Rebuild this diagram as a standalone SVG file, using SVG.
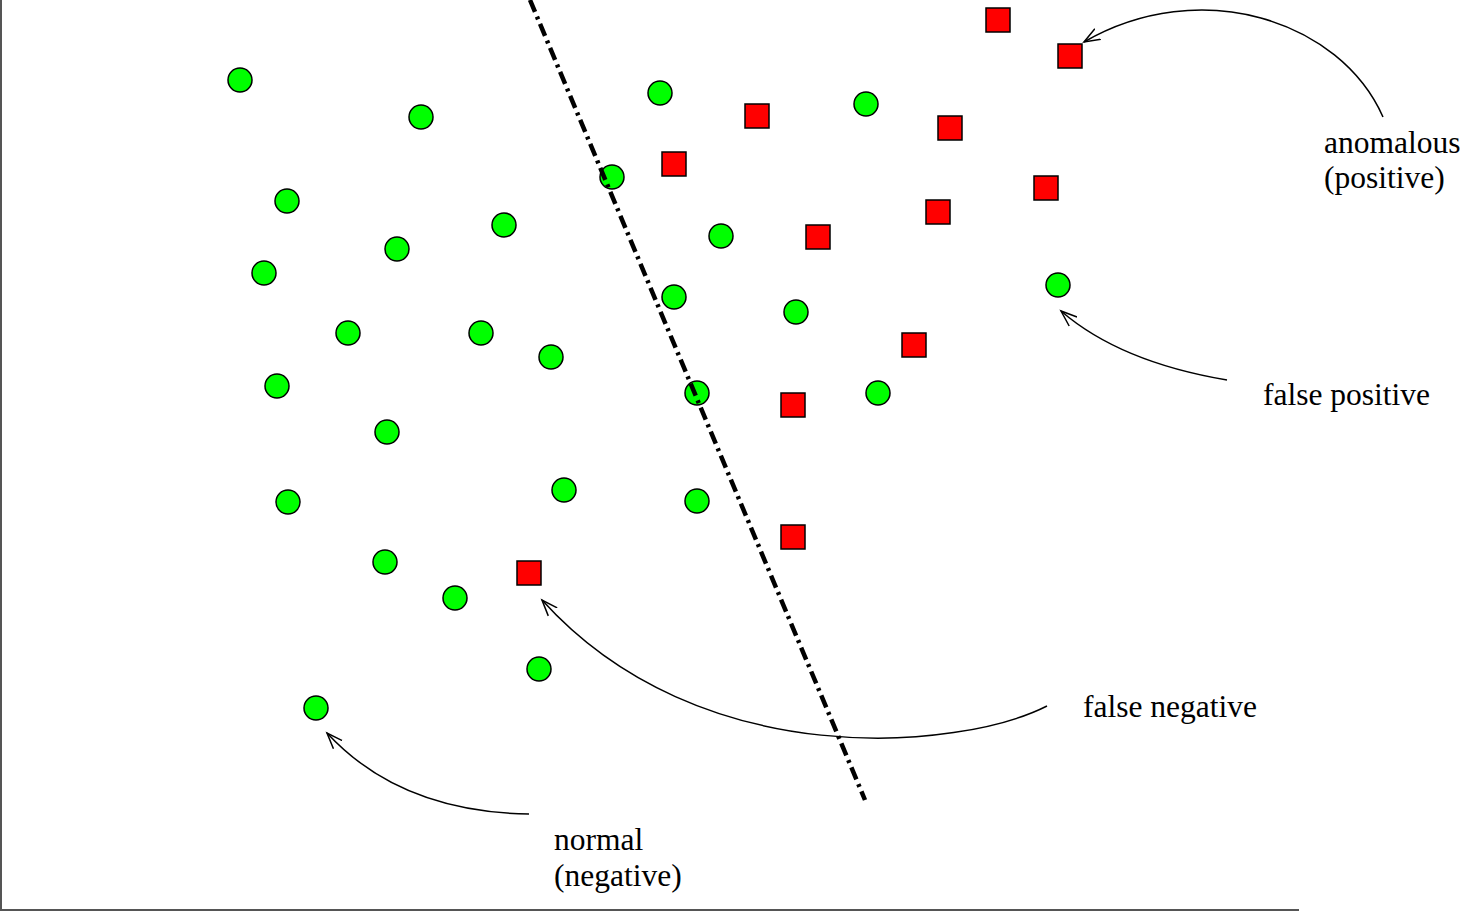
<svg xmlns="http://www.w3.org/2000/svg" width="1467" height="912" viewBox="0 0 1467 912">
<style>
.n{fill:#00ff00;stroke:#000;stroke-width:1.5}
.a{fill:#ff0000;stroke:#000;stroke-width:1.5}
.c{fill:none;stroke:#000;stroke-width:1.5}
.t{font-family:"Liberation Serif",serif;font-size:31.5px;fill:#000}
</style>
<defs>
<marker id="ah" viewBox="0 0 20 20" refX="16" refY="10" markerWidth="20" markerHeight="20" markerUnits="userSpaceOnUse" orient="auto">
<path d="M0,4 L16,10 L0,16" fill="none" stroke="#000" stroke-width="1.5"/>
</marker>
</defs>
<rect width="1467" height="912" fill="#fff"/>
<g id="axes" fill="none" stroke="#555" stroke-width="2">
<path d="M1,0 V910 H1299"/>
</g>
<g id="normal-points">
<circle class="n" cx="240" cy="80" r="12"/>
<circle class="n" cx="421" cy="117" r="12"/>
<circle class="n" cx="287" cy="201" r="12"/>
<circle class="n" cx="264" cy="273" r="12"/>
<circle class="n" cx="397" cy="249" r="12"/>
<circle class="n" cx="504" cy="225" r="12"/>
<circle class="n" cx="348" cy="333" r="12"/>
<circle class="n" cx="481" cy="333" r="12"/>
<circle class="n" cx="551" cy="357" r="12"/>
<circle class="n" cx="277" cy="386" r="12"/>
<circle class="n" cx="387" cy="432" r="12"/>
<circle class="n" cx="288" cy="502" r="12"/>
<circle class="n" cx="564" cy="490" r="12"/>
<circle class="n" cx="385" cy="562" r="12"/>
<circle class="n" cx="455" cy="598" r="12"/>
<circle class="n" cx="539" cy="669" r="12"/>
<circle class="n" cx="316" cy="708" r="12"/>
<circle class="n" cx="660" cy="93" r="12"/>
<circle class="n" cx="612" cy="177" r="12"/>
<circle class="n" cx="721" cy="236" r="12"/>
<circle class="n" cx="674" cy="297" r="12"/>
<circle class="n" cx="866" cy="104" r="12"/>
<circle class="n" cx="796" cy="312" r="12"/>
<circle class="n" cx="697" cy="393" r="12"/>
<circle class="n" cx="878" cy="393" r="12"/>
<circle class="n" cx="697" cy="501" r="12"/>
<circle class="n" cx="1058" cy="285" r="12"/>
</g>
<g id="anomalous-points">
<rect class="a" x="986" y="8" width="24" height="24"/>
<rect class="a" x="1058" y="44" width="24" height="24"/>
<rect class="a" x="745" y="104" width="24" height="24"/>
<rect class="a" x="662" y="152" width="24" height="24"/>
<rect class="a" x="938" y="116" width="24" height="24"/>
<rect class="a" x="1034" y="176" width="24" height="24"/>
<rect class="a" x="926" y="200" width="24" height="24"/>
<rect class="a" x="806" y="225" width="24" height="24"/>
<rect class="a" x="902" y="333" width="24" height="24"/>
<rect class="a" x="781" y="393" width="24" height="24"/>
<rect class="a" x="781" y="525" width="24" height="24"/>
<rect class="a" x="517" y="561" width="24" height="24"/>
</g>
<g id="boundary">
<path d="M530,0 L865,800" fill="none" stroke="#000" stroke-width="4.5" stroke-dasharray="13,5,3,5"/>
</g>
<g id="connectors">
<path class="c" d="M1383,117 C1340,20 1200,-25 1084,42" marker-end="url(#ah)"/>
<path class="c" d="M1227,380 Q1120,362 1061,311" marker-end="url(#ah)"/>
<path class="c" d="M1047,706 C960,750 700,775 542,600" marker-end="url(#ah)"/>
<path class="c" d="M529,814 Q400,812 327,733" marker-end="url(#ah)"/>
</g>
<g id="labels">
<text class="t" x="1324" y="153">anomalous</text>
<text class="t" x="1324" y="188">(positive)</text>
<text class="t" x="1263" y="405">false positive</text>
<text class="t" x="1083" y="717">false negative</text>
<text class="t" x="554" y="850">normal</text>
<text class="t" x="554" y="886">(negative)</text>
</g>
</svg>
